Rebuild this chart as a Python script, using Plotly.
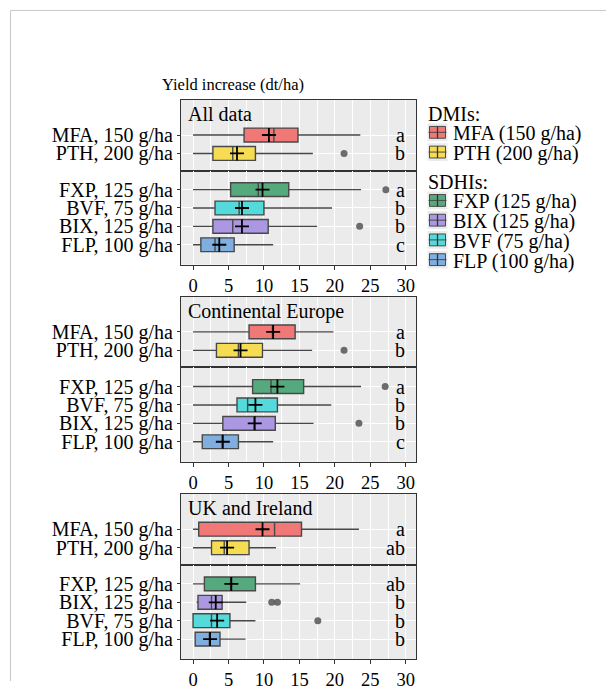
import plotly.graph_objects as go

# ---------------- data ----------------
REGIONS = ["All data", "Continental Europe", "UK and Ireland"]
X_TITLE = "Yield increase (dt/ha)"
X_TICKS = [0, 5, 10, 15, 20, 25, 30]

DMI_ROWS = ["MFA, 150 g/ha", "PTH, 200 g/ha"]
SDHI_ROWS_A = ["FXP, 125 g/ha", "BVF, 75 g/ha", "BIX, 125 g/ha", "FLP, 100 g/ha"]
SDHI_ROWS_B = ["FXP, 125 g/ha", "BIX, 125 g/ha", "BVF, 75 g/ha", "FLP, 100 g/ha"]
SDHI_ORDER = [SDHI_ROWS_A, SDHI_ROWS_A, SDHI_ROWS_B]

# stats per row label: [lower whisker, q1, median, q3, upper whisker, mean]
ALL_STATS = {
    "MFA, 150 g/ha": [0.0, 7.2, 11.4, 14.8, 23.6, 10.7],
    "PTH, 200 g/ha": [0.0, 2.8, 5.6, 8.8, 16.9, 6.2],
    "FXP, 125 g/ha": [0.0, 5.3, 9.2, 13.5, 23.7, 9.8],
    "BVF, 75 g/ha": [0.0, 3.1, 6.5, 10.0, 19.6, 6.9],
    "BIX, 125 g/ha": [0.0, 2.8, 5.6, 10.6, 17.5, 6.9],
    "FLP, 100 g/ha": [0.0, 1.1, 3.1, 5.8, 11.3, 3.7],
}
CEU_STATS = {
    "MFA, 150 g/ha": [0.0, 7.9, 11.2, 14.4, 19.8, 11.3],
    "PTH, 200 g/ha": [0.0, 3.3, 6.4, 9.8, 16.8, 6.7],
    "FXP, 125 g/ha": [0.0, 8.4, 11.0, 15.6, 23.7, 11.9],
    "BVF, 75 g/ha": [0.0, 6.2, 7.7, 11.9, 19.5, 8.8],
    "BIX, 125 g/ha": [0.0, 4.2, 8.6, 11.6, 17.0, 8.7],
    "FLP, 100 g/ha": [0.0, 1.3, 4.1, 6.4, 11.3, 4.2],
}
UKI_STATS = {
    "MFA, 150 g/ha": [0.0, 0.8, 11.5, 15.3, 23.4, 9.8],
    "PTH, 200 g/ha": [0.0, 2.6, 4.4, 7.9, 11.7, 4.8],
    "FXP, 125 g/ha": [0.0, 1.6, 5.3, 8.8, 15.1, 5.4],
    "BIX, 125 g/ha": [0.5, 0.7, 2.6, 4.1, 7.5, 3.2],
    "BVF, 75 g/ha": [0.0, 0.0, 2.6, 5.2, 8.8, 3.4],
    "FLP, 100 g/ha": [0.2, 0.3, 2.3, 3.8, 7.4, 2.4],
}
STATS = [ALL_STATS, CEU_STATS, UKI_STATS]

ALL_OUTLIERS = {"PTH, 200 g/ha": [21.3], "FXP, 125 g/ha": [27.2], "BIX, 125 g/ha": [23.5]}
CEU_OUTLIERS = {"PTH, 200 g/ha": [21.3], "FXP, 125 g/ha": [27.1], "BIX, 125 g/ha": [23.4]}
UKI_OUTLIERS = {"BIX, 125 g/ha": [11.1, 11.9], "BVF, 75 g/ha": [17.6]}
OUTLIERS = [ALL_OUTLIERS, CEU_OUTLIERS, UKI_OUTLIERS]

ALL_LETTERS = {"MFA, 150 g/ha": "a", "PTH, 200 g/ha": "b", "FXP, 125 g/ha": "a",
               "BVF, 75 g/ha": "b", "BIX, 125 g/ha": "b", "FLP, 100 g/ha": "c"}
CEU_LETTERS = {"MFA, 150 g/ha": "a", "PTH, 200 g/ha": "b", "FXP, 125 g/ha": "a",
               "BVF, 75 g/ha": "b", "BIX, 125 g/ha": "b", "FLP, 100 g/ha": "c"}
UKI_LETTERS = {"MFA, 150 g/ha": "a", "PTH, 200 g/ha": "ab", "FXP, 125 g/ha": "ab",
               "BIX, 125 g/ha": "b", "BVF, 75 g/ha": "b", "FLP, 100 g/ha": "b"}
LETTERS = [ALL_LETTERS, CEU_LETTERS, UKI_LETTERS]

COLORS = {
    "MFA, 150 g/ha": "rgb(240,120,118)",
    "PTH, 200 g/ha": "rgb(246,220,82)",
    "FXP, 125 g/ha": "rgb(84,170,124)",
    "BIX, 125 g/ha": "rgb(172,152,226)",
    "BVF, 75 g/ha": "rgb(84,218,218)",
    "FLP, 100 g/ha": "rgb(128,174,222)",
}

LEGEND_GROUPS = ["DMIs:", "SDHIs:"]
LEGEND_ITEMS = [
    [("MFA, 150 g/ha", "MFA (150 g/ha)"), ("PTH, 200 g/ha", "PTH (200 g/ha)")],
    [("FXP, 125 g/ha", "FXP (125 g/ha)"), ("BIX, 125 g/ha", "BIX (125 g/ha)"),
     ("BVF, 75 g/ha", "BVF (75 g/ha)"), ("FLP, 100 g/ha", "FLP (100 g/ha)")],
]

# ---------------- layout geometry (screen pixels) ----------------
OFF = 8                      # page body margin in front of the figure
W, H = 614 - OFF, 690 - OFF  # figure size so that it fills the window
FONT = "Liberation Serif"
X_LEFT, X_RIGHT = 181.0, 416.0
X_RANGE = [-1.7, 31.45]
TOPS = [101.0, 300.5, 500.5]
BOTTOMS = [268.0, 467.7, 667.7]
TOP_SUB_H = 71.7
LABEL_SIZE = 20


def py(p):
    return 1 - (p - OFF) / H


def px(p):
    return (p - OFF) / W


fig = go.Figure()
layout = dict(
    width=W, height=H, autosize=False,
    margin=dict(l=0, r=0, t=0, b=0),
    paper_bgcolor="white", plot_bgcolor="#EBEBEB",
    showlegend=False,
    font=dict(family=FONT, size=LABEL_SIZE, color="black"),
)
annotations = []
shapes = []

for p, region in enumerate(REGIONS):
    div = TOPS[p] + TOP_SUB_H
    groups = [DMI_ROWS, SDHI_ORDER[p]]
    domains = [[py(div), py(TOPS[p])], [py(BOTTOMS[p]), py(div)]]
    ranges = [[-0.925, 2.91], [-1.08, 4.04]]
    for s in range(2):
        idx = 2 * p + s + 1
        xa = "x" if idx == 1 else f"x{idx}"
        ya = "y" if idx == 1 else f"y{idx}"
        rows = groups[s]
        for lab in rows:
            lo, q1, med, q3, hi, mean = STATS[p][lab]
            fig.add_trace(go.Box(
                y=[lab], q1=[q1], median=[med], q3=[q3],
                lowerfence=[lo], upperfence=[hi],
                orientation="h", width=0.75, whiskerwidth=0,
                fillcolor=COLORS[lab], line=dict(color="#484848", width=1.4),
                boxpoints=False, xaxis=xa, yaxis=ya, hoverinfo="skip",
            ))
            fig.add_trace(go.Scatter(
                x=[mean], y=[lab], mode="markers", xaxis=xa, yaxis=ya,
                marker=dict(symbol="cross-thin", size=10, color="black",
                            line=dict(width=1.8, color="black")),
                hoverinfo="skip",
            ))
            outs = OUTLIERS[p].get(lab, [])
            if outs:
                fig.add_trace(go.Scatter(
                    x=outs, y=[lab] * len(outs), mode="markers", xaxis=xa, yaxis=ya,
                    marker=dict(symbol="circle", size=7, color="rgba(85,85,85,0.85)"),
                    hoverinfo="skip",
                ))
            annotations.append(dict(
                x=30.15, y=lab, xref=xa, yref=ya, text=LETTERS[p][lab],
                showarrow=False, xanchor="right", yanchor="middle",
                font=dict(family=FONT, size=LABEL_SIZE, color="black"),
            ))
        bottom = (s == 1)
        layout["xaxis" if idx == 1 else f"xaxis{idx}"] = dict(
            domain=[px(X_LEFT), px(X_RIGHT)], anchor=ya, range=X_RANGE,
            tickmode="array", tickvals=X_TICKS, ticktext=[str(v) for v in X_TICKS],
            showticklabels=bottom, ticks="outside" if bottom else "",
            ticklen=4, tickwidth=1, tickcolor="#333333",
            tickfont=dict(family=FONT, size=18.5, color="black"),
            showgrid=True, gridcolor="white", gridwidth=1.2,
            minor=dict(dtick=2.5, tick0=0, showgrid=True, gridcolor="white", gridwidth=0.6),
            zeroline=False, showline=True, mirror=True,
            linecolor="#333333", linewidth=1, fixedrange=True,
        )
        layout["yaxis" if idx == 1 else f"yaxis{idx}"] = dict(
            domain=domains[s], anchor=xa, type="category",
            categoryorder="array", categoryarray=list(reversed(rows)),
            tickmode="array", tickvals=list(reversed(rows)), ticktext=list(reversed(rows)),
            range=ranges[s], ticks="outside", ticklen=3, tickcolor="#333333",
            tickfont=dict(family=FONT, size=LABEL_SIZE, color="black"),
            showgrid=True, gridcolor="white", gridwidth=1.2,
            zeroline=False, showline=True, mirror=True,
            linecolor="#333333", linewidth=1, fixedrange=True,
        )
    # panel title
    top_idx = 2 * p + 1
    annotations.append(dict(
        x=0.02, y=1, xref=("x" if top_idx == 1 else f"x{top_idx}") + " domain",
        yref=("y" if top_idx == 1 else f"y{top_idx}") + " domain",
        text=region, showarrow=False, xanchor="left", yanchor="top", yshift=-1,
        font=dict(family=FONT, size=20, color="black"),
    ))

# axis title at top
annotations.append(dict(
    x=px(160), y=py(85.5), xref="paper", yref="paper", text=X_TITLE,
    showarrow=False, xanchor="left", yanchor="middle",
    font=dict(family=FONT, size=16.5, color="black"),
))

# legend (grouped)
LEG_X = 427.5
ly = 115.5
for g, title in enumerate(LEGEND_GROUPS):
    annotations.append(dict(
        x=px(LEG_X - 2), y=py(ly), xref="paper", yref="paper", text=title,
        showarrow=False, xanchor="left", yanchor="middle",
        font=dict(family=FONT, size=LABEL_SIZE, color="black"),
    ))
    ly += 20
    for key, text in LEGEND_ITEMS[g]:
        ky = ly - 1.5
        shapes.append(dict(type="rect", xref="paper", yref="paper",
                           x0=px(LEG_X), x1=px(LEG_X + 20), y0=py(ky + 9), y1=py(ky - 9),
                           fillcolor="#EBEBEB", line=dict(width=0)))
        shapes.append(dict(type="line", xref="paper", yref="paper",
                           x0=px(LEG_X + 1), x1=px(LEG_X + 19), y0=py(ky), y1=py(ky),
                           line=dict(color="#4a4a4a", width=1)))
        shapes.append(dict(type="rect", xref="paper", yref="paper",
                           x0=px(LEG_X + 2), x1=px(LEG_X + 18), y0=py(ky + 6), y1=py(ky - 6),
                           fillcolor=COLORS[key], line=dict(color="#4a4a4a", width=1)))
        shapes.append(dict(type="line", xref="paper", yref="paper",
                           x0=px(LEG_X + 2), x1=px(LEG_X + 18), y0=py(ky), y1=py(ky),
                           line=dict(color="#4a4a4a", width=1)))
        shapes.append(dict(type="line", xref="paper", yref="paper",
                           x0=px(LEG_X + 10), x1=px(LEG_X + 10), y0=py(ky + 6), y1=py(ky - 6),
                           line=dict(color="#333333", width=1.3)))
        annotations.append(dict(
            x=px(LEG_X + 23), y=py(ly), xref="paper", yref="paper", text=text,
            showarrow=False, xanchor="left", yanchor="middle",
            font=dict(family=FONT, size=LABEL_SIZE, color="black"),
        ))
        ly += 20
    ly += 9

# outer light frame
shapes.append(dict(type="line", xref="paper", yref="paper", x0=px(10.5), x1=1,
                   y0=py(10.5), y1=py(10.5), line=dict(color="#C8C8C8", width=1)))
shapes.append(dict(type="line", xref="paper", yref="paper", x0=px(10.5), x1=px(10.5),
                   y0=py(10.5), y1=0, line=dict(color="#C8C8C8", width=1)))

layout["annotations"] = annotations
layout["shapes"] = shapes
fig.update_layout(**layout)
fig.write_html("out.html")
